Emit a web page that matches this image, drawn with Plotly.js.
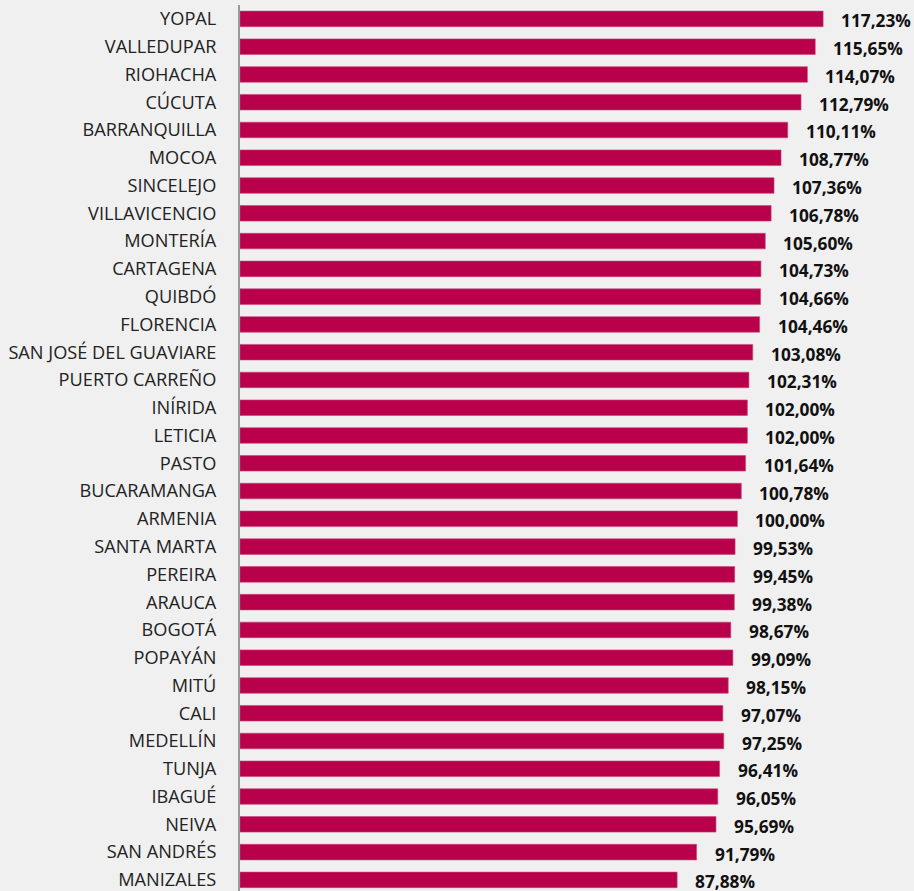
<!DOCTYPE html>
<html><head><meta charset="utf-8">
<script src="https://cdn.plot.ly/plotly-3.0.1.min.js"></script>
<style>html,body{margin:0;padding:0;background:#f0f0f0;}</style>
</head><body>
<div id="chart" style="width:914px;height:891px;"></div>
<script>
const cities = ["YOPAL","VALLEDUPAR","RIOHACHA","CÚCUTA","BARRANQUILLA","MOCOA","SINCELEJO","VILLAVICENCIO","MONTERÍA","CARTAGENA","QUIBDÓ","FLORENCIA","SAN JOSÉ DEL GUAVIARE","PUERTO CARREÑO","INÍRIDA","LETICIA","PASTO","BUCARAMANGA","ARMENIA","SANTA MARTA","PEREIRA","ARAUCA","BOGOTÁ","POPAYÁN","MITÚ","CALI","MEDELLÍN","TUNJA","IBAGUÉ","NEIVA","SAN ANDRÉS","MANIZALES"];
const values = [117.23,115.65,114.07,112.79,110.11,108.77,107.36,106.78,105.60,104.73,104.66,104.46,103.08,102.31,102.00,102.00,101.64,100.78,100.00,99.53,99.45,99.38,98.67,99.09,98.15,97.07,97.25,96.41,96.05,95.69,91.79,87.88];

const labels = values.map(v => v.toFixed(2).replace('.', ',') + '%');

const trace = {
  type: 'bar', orientation: 'h',
  x: values, y: cities,
  marker: {color: '#B9004B', line: {color: '#C94478', width: 0.6}},
  width: 0.56,
  hoverinfo: 'skip'
};

const annotations = values.map((v, i) => ({
  x: v, y: cities[i], xref: 'x', yref: 'y',
  text: labels[i], showarrow: false,
  xanchor: 'left', yanchor: 'middle', xshift: 16, yshift: -2,
  font: {family: 'Open Sans', size: 17.3, color: '#111', weight: 'bold'}
}));

const layout = {
  width: 914, height: 891,
  margin: {l: 240, r: 0, t: 5, b: 0},
  paper_bgcolor: '#f0f0f0', plot_bgcolor: '#f0f0f0',
  showlegend: false,
  xaxis: {range: [0, 135.5], showgrid: false, zeroline: false, showticklabels: false, ticks: '', showline: false, fixedrange: true},
  yaxis: {
    type: 'category', categoryorder: 'array', categoryarray: cities,
    range: [31.4, -0.5],
    showline: true, linecolor: '#999', linewidth: 2,
    ticks: '', ticklabelstandoff: 18, ticklabelshift: 1.5,
    showgrid: false, zeroline: false,
    tickfont: {family: 'Open Sans', size: 18.2, color: '#222'}
  },
  annotations: annotations,
  bargap: 0.44
};

Plotly.newPlot('chart', [trace], layout, {displayModeBar: false, staticPlot: true});
</script>
</body></html>
